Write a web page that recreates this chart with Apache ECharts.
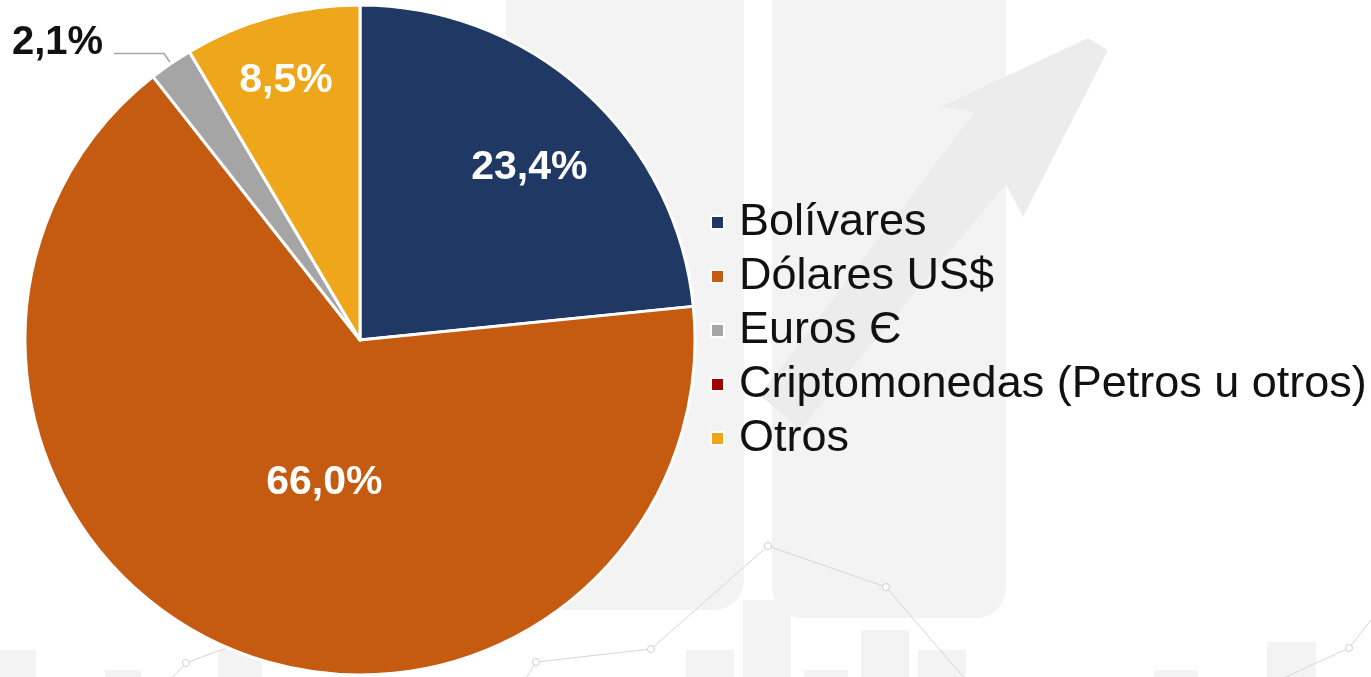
<!DOCTYPE html>
<html>
<head>
<meta charset="utf-8">
<script src="https://cdn.jsdelivr.net/npm/echarts@6/dist/echarts.min.js"></script>
<style>
  html, body { margin: 0; padding: 0; background: #fff; }
  #chart { width: 1371px; height: 677px; }
</style>
</head>
<body>
<div id="chart"></div>
<script>
const categories = [
  "Bolívares",
  "Dólares US$",
  "Euros Є",
  "Criptomonedas (Petros u otros)",
  "Otros",
];
const shares = [23.4, 66.0, 2.1, 0.0, 8.5];
const colors = ["#1F3864", "#C55A11", "#A5A5A5", "#A00000", "#EEA71B"];

// label nudges from the default slice position, to sit where the original has them
const labelDx = [55, 31, -6, 0, -29];
const labelDy = [-46, -14, -11, 0, -95];

const chart = echarts.init(document.getElementById("chart"), undefined, {
  renderer: "canvas",
});

const pct = (v) => v.toFixed(1).replace(".", ",") + "%";

// faint watermark behind the chart
const band = "#f3f3f3";
const mark = "#ececec";
const watermark = [
  { type: "rect", shape: { x: 506, y: -10, width: 238, height: 620, r: [0, 0, 30, 30] }, style: { fill: band } },
  { type: "rect", shape: { x: 772, y: -10, width: 234, height: 628, r: [0, 0, 30, 30] }, style: { fill: band } },
  {
    type: "polygon",
    shape: { points: [[1088, 38], [1108, 50], [1023, 217], [1006, 184], [800, 430], [760, 395], [975, 112], [940, 107]] },
    style: { fill: mark },
  },
  { type: "rect", shape: { x: 0, y: 650, width: 36, height: 30 }, style: { fill: band } },
  { type: "rect", shape: { x: 105, y: 670, width: 36, height: 10 }, style: { fill: band } },
  { type: "rect", shape: { x: 218, y: 650, width: 44, height: 30 }, style: { fill: band } },
  { type: "rect", shape: { x: 686, y: 650, width: 48, height: 30 }, style: { fill: band } },
  { type: "rect", shape: { x: 743, y: 600, width: 48, height: 80 }, style: { fill: band } },
  { type: "rect", shape: { x: 804, y: 670, width: 44, height: 10 }, style: { fill: band } },
  { type: "rect", shape: { x: 861, y: 630, width: 48, height: 50 }, style: { fill: band } },
  { type: "rect", shape: { x: 918, y: 650, width: 48, height: 30 }, style: { fill: band } },
  { type: "rect", shape: { x: 1154, y: 670, width: 44, height: 10 }, style: { fill: band } },
  { type: "rect", shape: { x: 1267, y: 642, width: 49, height: 38 }, style: { fill: band } },
  {
    type: "polyline",
    shape: { points: [[170, 680], [186, 663], [218, 651], [280, 630]] },
    style: { stroke: "#d6d6d6", lineWidth: 1, fill: null },
  },
  {
    type: "polyline",
    shape: { points: [[525, 680], [536, 662], [651, 649], [768, 546], [886, 587], [966, 680]] },
    style: { stroke: "#d6d6d6", lineWidth: 1, fill: null },
  },
  {
    type: "polyline",
    shape: { points: [[1279, 680], [1349, 648], [1375, 615]] },
    style: { stroke: "#d6d6d6", lineWidth: 1, fill: null },
  },
].concat(
  [[186, 663], [536, 662], [651, 649], [768, 546], [886, 587], [1349, 648]].map((p) => ({
    type: "circle",
    shape: { cx: p[0], cy: p[1], r: 3.5 },
    style: { fill: "#fff", stroke: "#cfcfcf", lineWidth: 1 },
  }))
);

const option = {
  animation: false,
  backgroundColor: "#ffffff",
  color: colors,
  graphic: { elements: watermark.map((e) => Object.assign({ z: -10, silent: true }, e)) },
  legend: {
    orient: "vertical",
    left: 705,
    top: 195,
    icon: "rect",
    itemWidth: 13,
    itemHeight: 13,
    itemGap: 9,
    data: categories,
    textStyle: {
      fontFamily: "Liberation Sans, Arial, sans-serif",
      fontSize: 45,
      lineHeight: 45,
      color: "#111",
      padding: [0, 0, 0, 10],
    },
  },
  series: [
    {
      type: "pie",
      center: [360, 340],
      radius: 335,
      startAngle: 90,
      clockwise: true,
      avoidLabelOverlap: false,
      itemStyle: { borderColor: "#ffffff", borderWidth: 3 },
      label: {
        show: true,
        position: "inside",
        color: "#ffffff",
        fontFamily: "Liberation Sans, Arial, sans-serif",
        fontWeight: "bold",
        fontSize: 41,
        formatter: (p) => pct(p.value),
      },
      labelLine: { show: false },
      labelLayout: (p) => ({ dx: labelDx[p.dataIndex], dy: labelDy[p.dataIndex] }),
      data: categories.map((name, i) => {
        const item = { name: name, value: shares[i] };
        if (name === "Euros Є") {
          item.label = { position: "outside", color: "#111", fontSize: 40 };
          item.labelLine = {
            show: true,
            length: 12,
            length2: 50,
            lineStyle: { color: "#a6a6a6", width: 1.5 },
          };
        }
        if (shares[i] === 0) item.label = { show: false };
        return item;
      }),
    },
  ],
};

chart.setOption(option);
window.onresize = () => chart.resize();
</script>
</body>
</html>
